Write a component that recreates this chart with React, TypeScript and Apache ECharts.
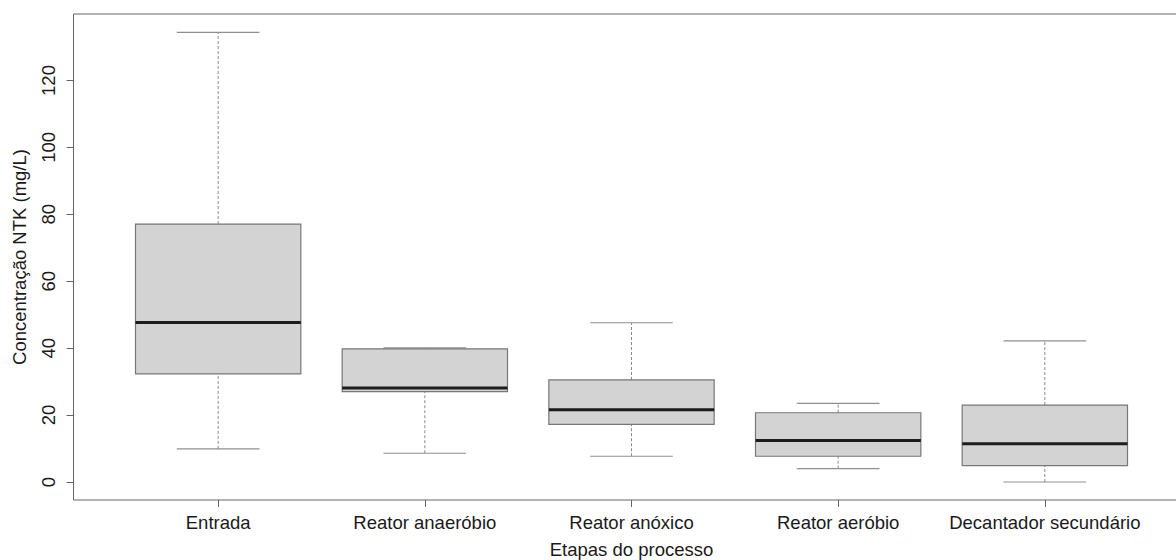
import React, { useEffect, useRef } from "react";
import * as echarts from "echarts";

// Process stages (x positions 1..5)
const stages = [
  "Entrada",
  "Reator anaeróbio",
  "Reator anóxico",
  "Reator aeróbio",
  "Decantador secundário",
];

// Five-number summaries of NTK concentration (mg/L) per stage
const whiskerLow = [9.9, 8.6, 7.7, 4.0, 0.0];
const quartile1 = [32.3, 27.0, 17.2, 7.7, 4.9];
const medians = [47.7, 28.1, 21.6, 12.4, 11.4];
const quartile3 = [77.1, 39.8, 30.5, 20.7, 23.0];
const whiskerHigh = [134.4, 40.1, 47.6, 23.5, 42.2];

const yTicks = [0, 20, 40, 60, 80, 100, 120];
const xTicks = [1, 2, 3, 4, 5];

const FONT = "'Liberation Sans', Arial, Helvetica, sans-serif";
const TEXT = "#1a1a1a";

export default function App() {
  const ref = useRef<HTMLDivElement>(null);

  useEffect(() => {
    if (!ref.current) return;
    const chart = echarts.init(ref.current, undefined, { renderer: "svg" });

    const data = stages.map((_, i) => [
      i + 1,
      whiskerLow[i],
      quartile1[i],
      medians[i],
      quartile3[i],
      whiskerHigh[i],
    ]);

    chart.setOption({
      animation: false,
      backgroundColor: "#ffffff",
      grid: {
        left: 73.5,
        top: 14,
        width: 1116,
        height: 486,
        outerBoundsMode: "none",
        containLabel: false,
        show: true,
        borderColor: "#666666",
        borderWidth: 1,
        backgroundColor: "transparent",
      },
      xAxis: {
        type: "value",
        min: 0.3,
        max: 5.7,
        name: "Etapas do processo",
        nameLocation: "middle",
        nameGap: 40,
        nameTextStyle: { fontFamily: FONT, fontSize: 18.5, color: TEXT },
        axisLine: { show: false, onZero: false },
        splitLine: { show: false },
        axisTick: {
          show: true,
          length: 7,
          customValues: xTicks,
          lineStyle: { color: "#666666" },
        },
        axisLabel: {
          customValues: xTicks,
          margin: 13,
          fontFamily: FONT,
          fontSize: 18.5,
          color: TEXT,
          formatter: (v: number) => stages[Math.round(v) - 1] ?? "",
        },
      },
      yAxis: {
        type: "value",
        min: -5.38,
        max: 139.88,
        name: "Concentração NTK (mg/L)",
        nameLocation: "middle",
        nameGap: 45,
        nameRotate: 90,
        nameTextStyle: { fontFamily: FONT, fontSize: 18.5, color: TEXT },
        axisLine: { show: false, onZero: false },
        splitLine: { show: false },
        axisTick: {
          show: true,
          length: 7,
          customValues: yTicks,
          lineStyle: { color: "#666666" },
        },
        axisLabel: {
          customValues: yTicks,
          rotate: 90,
          margin: 16,
          fontFamily: FONT,
          fontSize: 18.5,
          color: TEXT,
        },
      },
      series: [
        {
          type: "custom",
          data,
          encode: { x: 0, y: [1, 2, 3, 4, 5] },
          renderItem: (params: any, api: any) => {
            const x = api.value(0);
            const lo = api.value(1);
            const q1 = api.value(2);
            const med = api.value(3);
            const q3 = api.value(4);
            const hi = api.value(5);
            const half = 0.4;
            const cap = 0.2;
            const pLo = api.coord([x, lo]);
            const pQ1 = api.coord([x, q1]);
            const pQ3 = api.coord([x, q3]);
            const pHi = api.coord([x, hi]);
            const boxL = api.coord([x - half, q3]);
            const boxR = api.coord([x + half, q1]);
            const medL = api.coord([x - half, med]);
            const medR = api.coord([x + half, med]);
            const capL = api.coord([x - cap, hi]);
            const capR = api.coord([x + cap, hi]);
            const capL2 = api.coord([x - cap, lo]);
            const capR2 = api.coord([x + cap, lo]);
            const dashed = { stroke: "#8a8a8a", lineWidth: 1, lineDash: [3, 2] };
            const solid = { stroke: "#8f8f8f", lineWidth: 1.2 };
            return {
              type: "group",
              children: [
                {
                  type: "line",
                  shape: { x1: pQ3[0], y1: pQ3[1], x2: pHi[0], y2: pHi[1] },
                  style: dashed,
                },
                {
                  type: "line",
                  shape: { x1: pLo[0], y1: pLo[1], x2: pQ1[0], y2: pQ1[1] },
                  style: dashed,
                },
                {
                  type: "line",
                  shape: { x1: capL[0], y1: capL[1], x2: capR[0], y2: capR[1] },
                  style: solid,
                },
                {
                  type: "line",
                  shape: { x1: capL2[0], y1: capL2[1], x2: capR2[0], y2: capR2[1] },
                  style: solid,
                },
                {
                  type: "rect",
                  shape: {
                    x: boxL[0],
                    y: boxL[1],
                    width: boxR[0] - boxL[0],
                    height: boxR[1] - boxL[1],
                  },
                  style: { fill: "#d3d3d3", stroke: "#777777", lineWidth: 1.2 },
                },
                {
                  type: "line",
                  shape: { x1: medL[0], y1: medL[1], x2: medR[0], y2: medR[1] },
                  style: { stroke: "#1c1c1c", lineWidth: 3 },
                },
              ],
            };
          },
        },
      ],
    });

    return () => chart.dispose();
  }, []);

  return (
    <div
      ref={ref}
      style={{
        position: "fixed",
        left: 0,
        top: 0,
        width: 1200,
        height: 560,
        background: "#ffffff",
      }}
    />
  );
}
